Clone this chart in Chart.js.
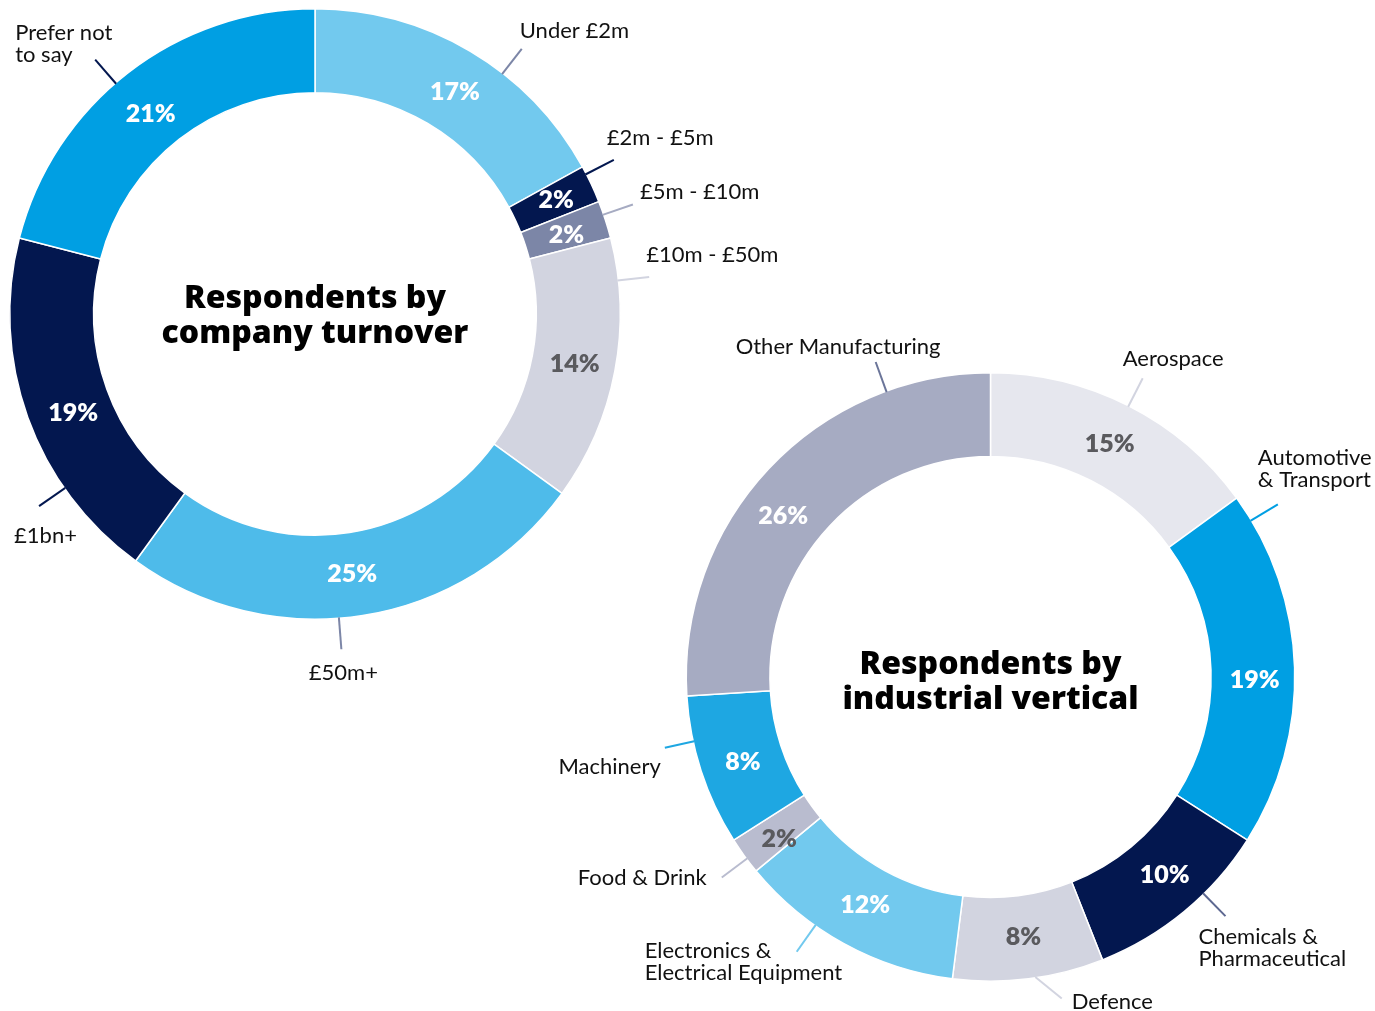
<!DOCTYPE html>
<html>
<head>
<meta charset="utf-8">
<script src="https://cdn.jsdelivr.net/npm/chart.js@4.4.1/dist/chart.umd.min.js"></script>
<style>
  html, body { margin: 0; padding: 0; background: #fff; }
  #wrap { position: relative; width: 1375px; height: 1011px; }
  canvas { position: absolute; left: 0; top: 0; }
</style>
</head>
<body>
<div id="wrap">
  <canvas id="turnover" width="1375" height="1011"></canvas>
  <canvas id="vertical" width="1375" height="1011"></canvas>
</div>
<script>
// Respondents by company turnover (clockwise from 12 o'clock)
const turnoverLabels = ['Under £2m', '£2m - £5m', '£5m - £10m', '£10m - £50m', '£50m+', '£1bn+', 'Prefer not\nto say'];
const turnoverShares = [17, 2, 2, 14, 25, 19, 21];

// Respondents by industrial vertical
const verticalLabels = ['Aerospace', 'Automotive\n& Transport', 'Chemicals &\nPharmaceutical', 'Defence',
  'Electronics &\nElectrical Equipment', 'Food & Drink', 'Machinery', 'Other Manufacturing'];
const verticalShares = [15, 19, 10, 8, 12, 2, 8, 26];

const NAVY = '#03174f';
const TEXT_FONT = 'Lato, "Noto Sans", sans-serif';
const TITLE_FONT = '"Open Sans", Lato, sans-serif';

/**
 * Draws the % figure inside every slice, the little leader lines,
 * the category names outside the ring and the title in the hole.
 */
const calloutPlugin = {
  id: 'callouts',
  afterDatasetsDraw(chart, args, opts) {
    const ctx = chart.ctx;
    const arcs = chart.getDatasetMeta(0).data;
    const values = chart.data.datasets[0].data;
    const labels = chart.data.labels;
    ctx.save();
    arcs.forEach((arc, i) => {
      const p = arc.getProps(['x', 'y', 'startAngle', 'endAngle', 'innerRadius', 'outerRadius'], true);
      const sweep = p.endAngle - p.startAngle;

      // percentage inside the ring
      const mid = p.startAngle + sweep / 2;
      const rMid = (p.innerRadius + p.outerRadius) / 2;
      const n = opts.nudge[i];
      ctx.font = '800 25px ' + TEXT_FONT;
      ctx.fillStyle = opts.valueColors[i];
      ctx.textAlign = 'center';
      ctx.textBaseline = 'middle';
      ctx.fillText(values[i] + '%', p.x + rMid * Math.cos(mid) + n[0], p.y + rMid * Math.sin(mid) + n[1]);

      // leader line, going out from the outer edge
      const c = opts.callouts[i];
      const a1 = p.startAngle + c.at * sweep;
      const a2 = a1 + (c.tilt || 0) * Math.PI / 180;
      const r2 = p.outerRadius + c.len;
      const ex = p.x + r2 * Math.cos(a2);
      const ey = p.y + r2 * Math.sin(a2);
      ctx.strokeStyle = c.color;
      ctx.lineWidth = 2;
      ctx.beginPath();
      ctx.moveTo(p.x + (p.outerRadius - 1) * Math.cos(a1), p.y + (p.outerRadius - 1) * Math.sin(a1));
      ctx.lineTo(ex, ey);
      ctx.stroke();

      // category name
      ctx.font = '400 22px ' + TEXT_FONT;
      ctx.fillStyle = '#111';
      ctx.textAlign = c.align;
      labels[i].split('\n').forEach((line, k) => {
        ctx.fillText(line, ex + c.dx, ey + c.dy + k * 22);
      });
    });

    // title in the hole
    const centre = arcs[0];
    ctx.font = '800 32px ' + TITLE_FONT;
    ctx.fillStyle = '#000';
    ctx.textAlign = 'center';
    ctx.textBaseline = 'middle';
    opts.title.forEach((line, k) => {
      ctx.fillText(line, centre.x, centre.y + opts.titleShift + (k - (opts.title.length - 1) / 2) * 35);
    });
    ctx.restore();
  }
};

function ringChart(id, labels, values, colors, padding, plugOpts) {
  return new Chart(document.getElementById(id), {
    type: 'doughnut',
    data: {
      labels: labels,
      datasets: [{
        data: values,
        backgroundColor: colors,
        borderColor: '#ffffff',
        borderWidth: 1.5
      }]
    },
    options: {
      responsive: false,
      animation: false,
      events: [],
      cutout: '72.5%',
      layout: { padding: padding },
      plugins: {
        legend: { display: false },
        tooltip: { enabled: false },
        callouts: plugOpts
      }
    },
    plugins: [calloutPlugin]
  });
}

ringChart('turnover', turnoverLabels, turnoverShares,
  ['#72c9ee', NAVY, '#7c86a7', '#d2d4e0', '#4ebbea', NAVY, '#009fe3'],
  { left: 9, top: 8, right: 754, bottom: 391 },
  {
    title: ['Respondents by', 'company turnover'],
    titleShift: 2,
    valueColors: ['#fff', '#fff', '#fff', '#5a5a5e', '#fff', '#fff', '#fff'],
    nudge: [[6, 5], [3, -2], [1, 2], [1, 1], [-4, 0], [6, 10], [-3, 8]],
    callouts: [
      { at: 0.62, len: 31, color: '#7c86a7', align: 'left', dx: -2, dy: -18 },
      { at: 0.21, len: 31, color: NAVY, align: 'left', dx: -7, dy: -22 },
      { at: 0.36, len: 31, color: '#a6abc2', align: 'left', dx: 7, dy: -13 },
      { at: 0.16, len: 31, color: '#d2d4e0', align: 'left', dx: -3, dy: -22 },
      { at: 0.55, len: 31, color: '#7c86a7', align: 'center', dx: 2, dy: 24 },
      { at: 0.28, len: 31, color: NAVY, align: 'left', dx: -25, dy: 30 },
      { at: 0.46, len: 31, color: NAVY, align: 'left', dx: -80, dy: -27 }
    ]
  });

ringChart('vertical', verticalLabels, verticalShares,
  ['#e6e7ee', '#009fe3', NAVY, '#d2d4e0', '#72c9ee', '#b9bccf', '#1ea7e2', '#a6abc2'],
  { left: 685, top: 372, right: 79, bottom: 29 },
  {
    title: ['Respondents by', 'industrial vertical'],
    titleShift: 5,
    valueColors: ['#5a5a5e', '#fff', '#fff', '#5a5a5e', '#fff', '#5a5a5e', '#fff', '#fff'],
    nudge: [[0, 1], [2, 11], [7, -4], [0, 0], [1, -2], [1, 8], [2, 4], [-16, 19]],
    callouts: [
      { at: 0.5, len: 31, color: '#d2d4e0', align: 'left', dx: -20, dy: -19 },
      { at: 0.073, len: 31, color: '#009fe3', align: 'left', dx: -20, dy: -46 },
      { at: 0.364, len: 31, color: '#5d6891', align: 'left', dx: -27, dy: 21 },
      { at: 0.455, len: 25, tilt: -4, color: '#d2d4e0', align: 'left', dx: 10, dy: 3 },
      { at: 0.648, len: 32, color: '#72c9ee', align: 'left', dx: -152, dy: -1 },
      { at: 0.40, len: 31, color: '#b9bccf', align: 'right', dx: -15, dy: 0 },
      { at: 0.70, len: 29, color: '#1ea7e2', align: 'right', dx: -4, dy: 19 },
      { at: 0.786, len: 31, color: '#6b7599', align: 'left', dx: -140, dy: -15 }
    ]
  });
</script>
</body>
</html>
